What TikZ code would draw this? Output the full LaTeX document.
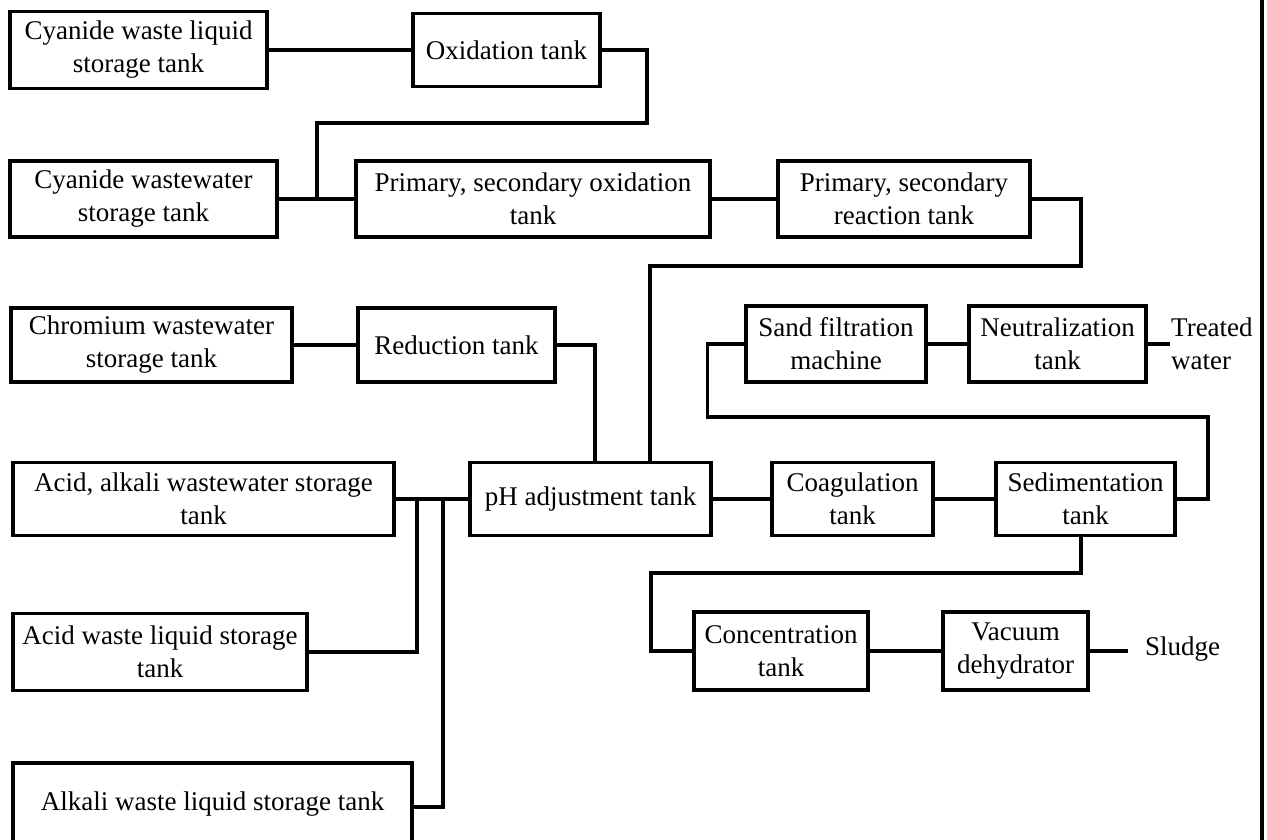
\documentclass[tikz,border=0pt]{standalone}
\usepackage{fontspec}
\setmainfont{Liberation Serif}
\begin{document}
\begin{tikzpicture}[x=1pt,y=-1pt,
  unit/.style={draw, line width=3.2pt, inner sep=0pt, align=center,
    font=\fontsize{27}{33}\selectfont},
  lbl/.style={inner sep=0pt, font=\fontsize{27}{33}\selectfont},
  pipe/.style={line width=3.2pt}]
\useasboundingbox (0,0) rectangle (1267,840);
\clip (0,0) rectangle (1267,840);

% cyanide line
\node[unit, minimum width=257pt, minimum height=77pt] (cwl) at (138.5,50) {Cyanide waste liquid\\storage tank};
\node[unit, minimum width=187pt, minimum height=73pt] (ox) at (506.5,50) {Oxidation tank};
\node[unit, minimum width=267pt, minimum height=76pt] (cww) at (143.5,199) {Cyanide wastewater\\storage tank};
\node[unit, minimum width=354pt, minimum height=76pt] (pso) at (533,199) {Primary, secondary oxidation\\tank};
\node[unit, minimum width=252pt, minimum height=76pt] (psr) at (904,199) {Primary, secondary\\reaction tank};
\coordinate (jc) at (317,199);

% chromium line
\node[unit, minimum width=281pt, minimum height=74pt] (cr) at (151.5,345) {Chromium wastewater\\storage tank};
\node[unit, minimum width=197pt, minimum height=74pt] (red) at (456.5,345) {Reduction tank};

% acid / alkali
\node[unit, minimum width=381pt, minimum height=73pt] (aa) at (203.5,499) {Acid, alkali wastewater storage\\tank};
\node[unit, minimum width=294pt, minimum height=77pt] (aw) at (160,652) {Acid waste liquid storage\\tank};
\node[unit, minimum width=399pt, minimum height=82pt] (kw) at (212.5,804) {\raisebox{3pt}{Alkali waste liquid storage tank}};
\coordinate (h1) at (417,499);
\coordinate (h2) at (443,499);

% main treatment line
\node[unit, minimum width=241pt, minimum height=73pt] (ph) at (590.5,499) {pH adjustment tank};
\node[unit, minimum width=161pt, minimum height=73pt] (co) at (852.5,499) {Coagulation\\tank};
\node[unit, minimum width=179pt, minimum height=73pt] (sed) at (1085.5,499) {Sedimentation\\tank};
\node[unit, minimum width=180pt, minimum height=76pt] (sf) at (836,344) {Sand filtration\\machine};
\node[unit, minimum width=177pt, minimum height=76pt] (neu) at (1057.5,344) {Neutralization\\tank};
\node[lbl, align=left, anchor=west] (tw) at (1171,344) {Treated\\water};

% sludge line
\node[unit, minimum width=174pt, minimum height=78pt] (con) at (781,651) {Concentration\\tank};
\node[unit, minimum width=145pt, minimum height=78pt] (vac) at (1015.5,651) {Vacuum\\dehydrator};
\node[lbl, anchor=west] (sl) at (1145,649) {Sludge};

% frame edge
\coordinate (ft) at (1262,0);
\coordinate (fb) at (1262,840);
\draw[pipe] (ft) -- (fb);

% connectors
\draw[pipe] (cwl.east) -- (ox.west);
\draw[pipe] (ox.east) -| (647,123) -| (jc);
\draw[pipe] (cww.east) -- (pso.west);
\draw[pipe] (pso.east) -- (psr.west);
\draw[pipe] (psr.east) -| (1081,266) -| ([xshift=59.5pt]ph.north);
\draw[pipe] (cr.east) -- (red.west);
\draw[pipe] (red.east) -| ([xshift=4.5pt]ph.north);
\draw[pipe] (aa.east) -- (ph.west);
\draw[pipe] (aw.east) -| (h1);
\draw[pipe] ([yshift=-3pt]kw.east) -| (h2);
\draw[pipe] (ph.east) -- (co.west);
\draw[pipe] (co.east) -- (sed.west);
\draw[pipe] (sed.east) -| (1208,417) -| ([xshift=-37pt]sf.west) -- (sf.west);
\draw[pipe] (sf.east) -- (neu.west);
\draw[pipe] (neu.east) -- ([xshift=-1pt]tw.west);
\draw[pipe] ([xshift=-4.5pt]sed.south) |- (651,573) |- (con.west);
\draw[pipe] (con.east) -- (vac.west);
\draw[pipe] (vac.east) -- ([xshift=-17pt]sl.west |- vac.east);
\end{tikzpicture}
\end{document}
